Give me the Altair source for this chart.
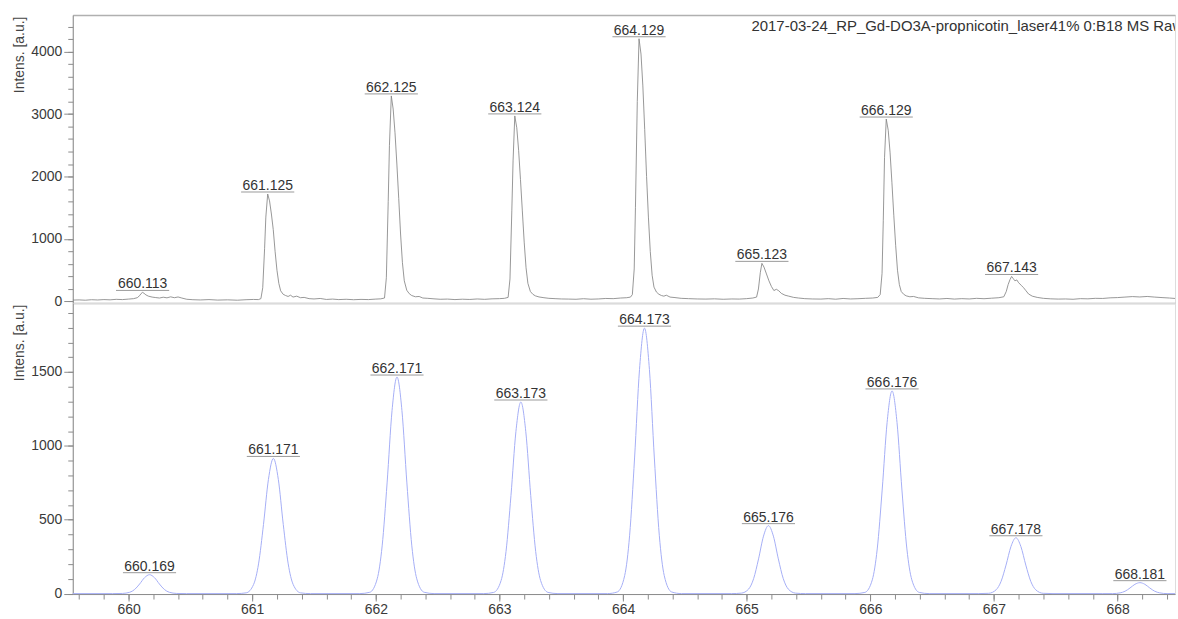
import altair as alt
import pandas as pd

FONT = "Liberation Sans"

# ---------------- measured spectrum (top panel) ----------------
top_mz = [
    659.548, 659.60, 659.65, 659.70, 659.75, 659.80, 659.85, 659.90, 659.95, 660.00,
    660.04, 660.07, 660.09, 660.10, 660.113, 660.125, 660.14, 660.16, 660.19, 660.22,
    660.25, 660.28, 660.31, 660.34, 660.37, 660.40, 660.43, 660.47, 660.52, 660.58,
    660.65, 660.72, 660.80, 660.88, 660.95, 661.01, 661.05, 661.07,
    661.085, 661.10, 661.11, 661.125, 661.14, 661.155, 661.17, 661.185, 661.20, 661.215,
    661.23, 661.25, 661.27, 661.29, 661.31, 661.33, 661.36, 661.39, 661.42, 661.46,
    661.50, 661.55, 661.60, 661.65, 661.70, 661.76, 661.82, 661.88, 661.94, 662.00,
    662.04, 662.07,
    662.085, 662.10, 662.11, 662.125, 662.14, 662.155, 662.17, 662.185, 662.20, 662.215,
    662.23, 662.25, 662.27, 662.29, 662.32, 662.35, 662.38, 662.42, 662.47, 662.52,
    662.58, 662.64, 662.70, 662.76, 662.82, 662.88, 662.94, 663.00, 663.04, 663.07,
    663.085, 663.10, 663.11, 663.124, 663.14, 663.155, 663.17, 663.185, 663.20, 663.215,
    663.23, 663.25, 663.27, 663.29, 663.32, 663.36, 663.40, 663.45, 663.50, 663.56,
    663.62, 663.68, 663.74, 663.80, 663.86, 663.92, 663.98, 664.03, 664.06, 664.075,
    664.09, 664.10, 664.115, 664.129, 664.145, 664.16, 664.175, 664.19, 664.205, 664.22,
    664.235, 664.25, 664.27, 664.29, 664.31, 664.33, 664.35, 664.38, 664.42, 664.47,
    664.53, 664.60, 664.67, 664.74, 664.81, 664.88, 664.94, 665.00, 665.05, 665.08,
    665.095, 665.11, 665.123, 665.14, 665.16, 665.18, 665.20, 665.22, 665.24, 665.26,
    665.28, 665.31, 665.34, 665.38, 665.42, 665.47, 665.53, 665.60, 665.66, 665.72,
    665.78, 665.84, 665.90, 665.96, 666.02, 666.06, 666.08,
    666.095, 666.105, 666.115, 666.129, 666.145, 666.16, 666.175, 666.19, 666.205, 666.22,
    666.235, 666.25, 666.27, 666.29, 666.32, 666.35, 666.39, 666.44, 666.50, 666.56,
    666.62, 666.68, 666.74, 666.80, 666.86, 666.92, 666.98, 667.04, 667.08,
    667.10, 667.115, 667.13, 667.143, 667.155, 667.17, 667.185, 667.20, 667.22, 667.24,
    667.26, 667.28, 667.31, 667.35, 667.40, 667.46, 667.52, 667.58, 667.64, 667.70,
    667.76, 667.82, 667.88, 667.94, 668.00, 668.06, 668.12, 668.18, 668.24, 668.30,
    668.36, 668.42, 668.465,
]
top_int = [
    22, 25, 20, 28, 24, 30, 26, 34, 30, 38,
    45, 60, 95, 125, 145, 130, 105, 85, 70, 62,
    55, 68, 58, 74, 60, 72, 55, 35, 28, 24,
    30, 22, 26, 20, 28, 32, 30, 45,
    220, 850, 1350, 1720, 1610, 1400, 1150, 800, 500, 290,
    170, 115, 95, 80, 100, 70, 85, 60, 65, 45,
    40, 48, 32, 38, 30, 35, 28, 33, 30, 38,
    42, 55,
    380, 1600, 2500, 3290, 3080, 2700, 2200, 1650, 1080, 620,
    330, 180, 125, 95, 75, 80, 55, 50, 42, 35,
    38, 30, 36, 32, 40, 34, 42, 45, 50, 65,
    360, 1450, 2250, 2970, 2780, 2420, 1950, 1450, 950, 540,
    290, 160, 115, 90, 72, 60, 50, 45, 40, 38,
    35, 44, 36, 40, 48, 45, 55, 60, 70, 110,
    520, 1500, 3200, 4205, 3960, 3450, 2750, 2000, 1350, 800,
    420, 230, 150, 115, 95, 85, 100, 70, 62, 50,
    45, 40, 38, 42, 35, 40, 38, 45, 55, 70,
    200, 460, 610, 550, 440, 330, 240, 175, 195, 170,
    130, 100, 85, 65, 55, 45, 40, 38, 45, 36,
    48, 40, 44, 50, 55, 65, 110,
    450, 1300, 2300, 2920, 2740, 2380, 1900, 1380, 900, 500,
    270, 160, 115, 90, 75, 80, 58, 50, 45, 40,
    48, 38, 45, 40, 50, 44, 52, 60, 75,
    160, 270, 350, 400, 370, 330, 345, 300, 260, 220,
    170, 120, 85, 65, 50, 42, 38, 40, 35, 45,
    42, 50, 48, 58, 62, 70, 78, 72, 80, 70,
    62, 55, 48,
]

top_peak_mz = [660.113, 661.125, 662.125, 663.124, 664.129, 665.123, 666.129, 667.143]
top_peak_int = [145, 1720, 3290, 2970, 4205, 610, 2920, 400]

# ---------------- simulated isotope pattern (bottom panel) ----------------
sim_mz = [
    659.548,
    659.869, 659.949, 660.009, 660.049, 660.089, 660.129, 660.169, 660.209, 660.249, 660.289, 660.329, 660.389, 660.469,
    660.871, 660.951, 661.011, 661.051, 661.091, 661.131, 661.171, 661.211, 661.251, 661.291, 661.331, 661.391, 661.471,
    661.871, 661.951, 662.011, 662.051, 662.091, 662.131, 662.171, 662.211, 662.251, 662.291, 662.331, 662.391, 662.471,
    662.873, 662.953, 663.013, 663.053, 663.093, 663.133, 663.173, 663.213, 663.253, 663.293, 663.333, 663.393, 663.473,
    663.873, 663.953, 664.013, 664.053, 664.093, 664.133, 664.173, 664.213, 664.253, 664.293, 664.333, 664.393, 664.473,
    664.876, 664.956, 665.016, 665.056, 665.096, 665.136, 665.176, 665.216, 665.256, 665.296, 665.336, 665.396, 665.476,
    665.876, 665.956, 666.016, 666.056, 666.096, 666.136, 666.176, 666.216, 666.256, 666.296, 666.336, 666.396, 666.476,
    666.878, 666.958, 667.018, 667.058, 667.098, 667.138, 667.178, 667.218, 667.258, 667.298, 667.338, 667.398, 667.478,
    667.881, 667.961, 668.021, 668.061, 668.101, 668.141, 668.181, 668.221, 668.261, 668.301, 668.341, 668.401, 668.465,
]
sim_int = [
    0,
    0, 1, 9, 28, 65, 108, 128, 108, 65, 28, 9, 1, 0,
    0, 5, 62, 201, 468, 773, 915, 773, 468, 201, 62, 5, 0,
    0, 9, 100, 323, 749, 1239, 1466, 1239, 749, 323, 100, 9, 0,
    0, 8, 88, 285, 663, 1096, 1297, 1096, 663, 285, 88, 8, 0,
    0, 11, 122, 395, 918, 1518, 1797, 1518, 918, 395, 122, 11, 0,
    0, 3, 31, 101, 235, 389, 460, 389, 235, 101, 31, 3, 0,
    0, 8, 93, 302, 701, 1159, 1372, 1159, 701, 302, 93, 8, 0,
    0, 2, 26, 83, 193, 319, 378, 319, 193, 83, 26, 2, 0,
    0, 0, 5, 16, 38, 63, 74, 63, 38, 16, 5, 0, 0,
]

sim_peak_mz = [660.169, 661.171, 662.171, 663.173, 664.173, 665.176, 666.176, 667.178, 668.181]
sim_peak_int = [128, 915, 1466, 1297, 1797, 460, 1372, 378, 74]

x_major = [660, 661, 662, 663, 664, 665, 666, 667, 668]
x_minor = [round(659.6 + 0.2 * i, 1) for i in range(45)]
top_y_major = [0, 1000, 2000, 3000, 4000]
top_y_minor = list(range(0, 4600, 200))
bot_y_major = [0, 500, 1000, 1500]
bot_y_minor = list(range(0, 2000, 100))

caption = "2017-03-24_RP_Gd-DO3A-propnicotin_laser41% 0:B18 MS Raw"

X_DOMAIN = [659.548, 668.465]
W = 1106
H_TOP = 289
H_BOT = 292

AX_COLOR = "#8c8c8c"
LAB_COLOR = "#3a3a3a"

top_df = pd.DataFrame({"mz": top_mz, "intensity": top_int})
sim_df = pd.DataFrame({"mz": sim_mz, "intensity": sim_int})
top_lab = pd.DataFrame({"mz": top_peak_mz, "intensity": top_peak_int,
                        "label": [f"{v:.3f}" for v in top_peak_mz]})
sim_lab = pd.DataFrame({"mz": sim_peak_mz, "intensity": sim_peak_int,
                        "label": [f"{v:.3f}" for v in sim_peak_mz]})

xs = alt.Scale(domain=X_DOMAIN, nice=False, zero=False)
ys_top = alt.Scale(domain=[-25, 4585], nice=False, zero=False)
ys_bot = alt.Scale(domain=[-3, 1967], nice=False, zero=False)


def y_major_axis(values):
    return alt.Axis(orient="left", values=values, format="d", tickSize=9, tickColor=AX_COLOR,
                    domain=True, domainColor=AX_COLOR, labelFontSize=14, labelColor=LAB_COLOR,
                    labelPadding=2, grid=False, title="Intens. [a.u.]", titleFontSize=14,
                    titleFontWeight="normal", titleColor="#444444", titleAngle=270,
                    titleX=-53, titleY=1, titleAlign="right", titleBaseline="middle")


def y_minor_axis(values):
    return alt.Axis(orient="left", values=values, tickSize=5, tickColor=AX_COLOR,
                    labels=False, domain=False, grid=False, title=None)


def peak_layers(lab_df, yscale, x_axis_for_rule, y_minor):
    rule = alt.Chart(lab_df).transform_calculate(
        x0="datum.mz - 0.215", x1="datum.mz + 0.215"
    ).mark_rule(color="#9a9a9a", strokeWidth=1, yOffset=-2).encode(
        x=alt.X("x0:Q", scale=xs, axis=x_axis_for_rule),
        x2="x1:Q",
        y=alt.Y("intensity:Q", scale=yscale, axis=None),
    )
    text = alt.Chart(lab_df).mark_text(
        dy=-4, baseline="alphabetic", align="center", fontSize=14, color="#333333", font=FONT
    ).encode(
        x=alt.X("mz:Q", scale=xs, axis=None),
        y=alt.Y("intensity:Q", scale=yscale, axis=y_minor),
        text="label:N",
    )
    return rule, text


# ---------- top panel ----------
top_line = alt.Chart(top_df).mark_line(color="#858585", strokeWidth=0.85, clip=True).encode(
    x=alt.X("mz:Q", scale=xs,
            axis=alt.Axis(orient="bottom", labels=False, ticks=False, domain=True,
                          domainColor="#a8a8a8", domainWidth=1.5, grid=False, title=None)),
    y=alt.Y("intensity:Q", scale=ys_top, axis=y_major_axis(top_y_major)),
)
top_rule, top_text = peak_layers(
    top_lab, ys_top,
    alt.Axis(orient="top", labels=False, ticks=False, domain=True, domainColor="#b0b0b0",
             domainWidth=1.5, grid=False, title=None),
    y_minor_axis(top_y_minor),
)
annot = alt.Chart(pd.DataFrame({"t": [caption]})).mark_text(
    align="left", baseline="middle", fontSize=15, color="#333333", font=FONT, clip=True
).encode(x=alt.value(681), y=alt.value(11), text="t:N")

top = alt.layer(top_line, top_rule, top_text, annot).resolve_axis(
    x="independent", y="independent"
).properties(width=W, height=H_TOP)

# ---------- bottom panel ----------
bot_line = alt.Chart(sim_df).mark_line(color="#a6aff6", strokeWidth=1, interpolate="monotone").encode(
    x=alt.X("mz:Q", scale=xs,
            axis=alt.Axis(orient="bottom", values=x_major, format="d", tickSize=7, tickColor=AX_COLOR,
                          domain=True, domainColor=AX_COLOR, labelFontSize=14, labelColor=LAB_COLOR,
                          labelPadding=2, labelFlush=False, grid=False, title=None)),
    y=alt.Y("intensity:Q", scale=ys_bot, axis=y_major_axis(bot_y_major)),
)
bot_rule, bot_text = peak_layers(
    sim_lab, ys_bot,
    alt.Axis(orient="bottom", values=x_minor, tickSize=5, tickColor=AX_COLOR, labels=False,
             domain=False, grid=False, title=None),
    y_minor_axis(bot_y_minor),
)
bottom = alt.layer(bot_line, bot_rule, bot_text).resolve_axis(
    x="independent", y="independent"
).properties(width=W, height=H_BOT)

chart = alt.vconcat(top, bottom, spacing=0, bounds="flush").properties(
    padding={"left": 12, "top": 13, "right": 0, "bottom": 3}
).configure_view(stroke=None).configure(font=FONT).configure_axis(
    labelFont=FONT, titleFont=FONT
)

chart.save("out.html", embed_options={"renderer": "svg", "actions": False})
